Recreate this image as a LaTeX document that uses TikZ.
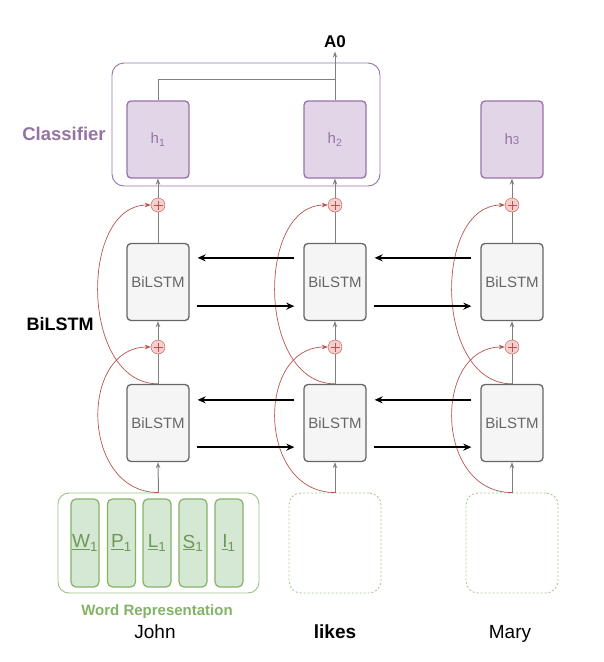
\documentclass[tikz,border=0pt]{standalone}
\usepackage{fontspec}
\setmainfont{Liberation Sans}
\usetikzlibrary{arrows.meta,calc}
\definecolor{pfill}{HTML}{E1D5E7}
\definecolor{pdraw}{HTML}{9673A6}
\definecolor{gfill}{HTML}{F5F5F5}
\definecolor{gdraw}{HTML}{666666}
\definecolor{grfill}{HTML}{D5E8D4}
\definecolor{grdraw}{HTML}{82B366}
\definecolor{rfill}{HTML}{F8CECC}
\definecolor{rdraw}{HTML}{B85450}
\definecolor{lgray}{HTML}{808080}
\tikzset{
  hbox/.style={draw=pdraw, fill=pfill, line width=1.3pt, rounded corners=4pt,
    minimum width=62pt, minimum height=77pt, inner sep=0pt, text=pdraw,
    font=\fontsize{15}{17}\selectfont},
  lstm/.style={draw=gdraw, fill=gfill, line width=1.3pt, rounded corners=4pt,
    minimum width=62pt, minimum height=77pt, inner sep=0pt, text=gdraw,
    font=\fontsize{15}{17}\selectfont},
  plus/.style={circle, draw=rdraw, fill=rfill, minimum size=14pt, inner sep=0pt,
    path picture={\draw[rdraw, line width=0.6pt]
      ([xshift=-4.5pt]path picture bounding box.center) -- ([xshift=4.5pt]path picture bounding box.center)
      ([yshift=-4.5pt]path picture bounding box.center) -- ([yshift=4.5pt]path picture bounding box.center);}},
  feat/.style={draw=grdraw, fill=grfill, line width=1.2pt, rounded corners=5pt,
    minimum width=28pt, minimum height=88pt, inner sep=0pt, text=grdraw!85!black,
    font=\fontsize{19}{21}\selectfont},
  emptybox/.style={draw=grdraw!70, dash pattern=on 2pt off 2pt, line width=0.9pt,
    rounded corners=12pt, minimum width=92pt, minimum height=100pt},
  gline/.style={draw=lgray, line width=1pt},
  garrow/.style={gline, -{Stealth[length=6pt,width=4.5pt]}},
  harrow/.style={draw=black, line width=1.5pt, -{Stealth[length=8pt,width=7pt]}},
  rarrow/.style={draw=rdraw, line width=0.7pt, -{Stealth[length=6pt,width=4.5pt]}},
  word/.style={anchor=base, font=\fontsize{19}{21}\selectfont},
}
\begin{document}
\begin{tikzpicture}[x=1pt,y=-1pt]
\useasboundingbox (0,0) rectangle (604,662);
% classifier frame
\node[draw=pdraw, line width=0.9pt, rounded corners=12pt, minimum width=268pt, minimum height=123pt] (clf) at (246,124.5) {};
\node[text=pdraw, font=\bfseries\fontsize{18.5}{20}\selectfont] (clflabel) at (64,134) {Classifier};
\node[font=\bfseries\fontsize{17}{19}\selectfont] (a0) at (335,42) {A0};
\node[font=\bfseries\fontsize{18}{20}\selectfont] (bilabel) at (60,324) {BiLSTM};
% columns
\foreach \i/\x in {1/158,2/335,3/512}{
  \node[lstm] (u\i) at (\x,282) {BiLSTM};
  \node[lstm] (l\i) at (\x,423) {BiLSTM};
  \node[plus] (pa\i) at (\x,205) {};
  \node[plus] (pb\i) at (\x,347) {};
}
\node[hbox] (h1) at (158,139.5) {h\textsubscript{1}};
\node[hbox] (h2) at (335,139.5) {h\textsubscript{2}};
\node[hbox] (h3) at (512,139.5) {h{\fontsize{11.5}{12}\selectfont 3}};
% word representation
\node[draw=grdraw!80, line width=0.9pt, rounded corners=11pt, minimum width=201pt, minimum height=100pt] (in1) at (158.5,543) {};
\node[feat] (fw) at (85,543) {\underline{W}\textsubscript{1}};
\node[feat] (fp) at (121.5,543) {\underline{P}\textsubscript{1}};
\node[feat] (fl) at (157,543) {\underline{L}\textsubscript{1}};
\node[feat] (fs) at (193,543) {\underline{S}\textsubscript{1}};
\node[feat] (fi) at (229,543) {\underline{I}\textsubscript{1}};
\node[emptybox] (in2) at (335,543) {};
\node[emptybox] (in3) at (512,543) {};
\node[anchor=base, text=grdraw, font=\bfseries\fontsize{15}{17}\selectfont] (wrlabel) at (157,615) {Word Representation};
\node[word] (john) at (155,638) {John};
\node[word, font=\bfseries\fontsize{19}{21}\selectfont] (likes) at (335,638) {likes};
\node[word] (mary) at (510,638) {Mary};
% vertical connections
\foreach \i in {1,2,3}{
  \draw[garrow] (in\i.north) -- (l\i.south);
  \draw[gline] (l\i.north) -- (pb\i.south);
  \draw[garrow] (pb\i.north) -- (u\i.south);
  \draw[gline] (u\i.north) -- (pa\i.south);
  \draw[garrow] (pa\i.north) -- (h\i.south);
  \draw[rarrow] (in\i.north) .. controls +(-78,0) and +(-72,0) .. (pb\i.west);
  \draw[rarrow] (l\i.north) .. controls +(-78,0) and +(-72,0) .. (pa\i.west);
}
% classifier connections
\coordinate (jn) at (335,79);
\draw[gline] (h1.north) |- (jn);
\draw[garrow] (h2.north) -- (a0.south);
% horizontal arrows
\foreach \a/\b in {1/2,2/3}{
  \draw[harrow] ([shift={(-9,15)}]u\b.north west) -- ([shift={(8,15)}]u\a.north east);
  \draw[harrow] ([shift={(7,-15)}]u\a.south east) -- ([shift={(-9,-15)}]u\b.south west);
  \draw[harrow] ([shift={(-9,16)}]l\b.north west) -- ([shift={(8,16)}]l\a.north east);
  \draw[harrow] ([shift={(7,-15)}]l\a.south east) -- ([shift={(-9,-15)}]l\b.south west);
}
\end{tikzpicture}
\end{document}
